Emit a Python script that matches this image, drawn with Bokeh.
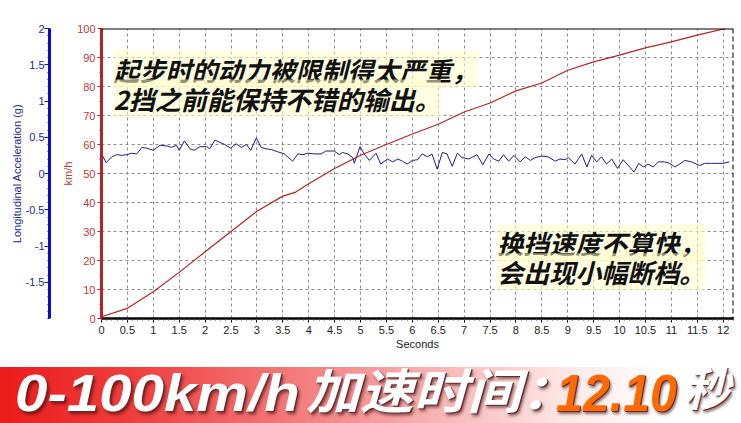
import numpy as np
from bokeh.plotting import figure
from bokeh.models import (Range1d, LinearAxis, FixedTicker, CustomJSTickFormatter,
                          Label, Span, Div)
from bokeh.layouts import column
from bokeh.embed import file_html
from bokeh.resources import INLINE

# ---------------- data ----------------
speed_t = [0, 0.5, 1, 1.5, 2, 2.5, 3, 3.5, 3.75, 4, 4.5, 5, 5.5, 6, 6.5, 7, 7.5,
           8, 8.5, 9, 9.5, 10, 10.5, 11, 11.5, 12.05]
speed_kmh = [0.6, 3.5, 9.2, 15.9, 23, 30, 37, 42.2, 43.6, 46.5, 51.7, 56.3, 60,
             63.6, 67, 71.2, 74.3, 78.5, 81.2, 85.6, 88.5, 90.8, 93.3, 95.4, 97.7, 100]

acc_t = [0, 0.09, 0.2, 0.3, 0.39, 0.49, 0.58, 0.68, 0.78, 0.87, 1.0, 1.13, 1.26, 1.35,
         1.45, 1.5, 1.6, 1.71, 1.79, 1.9, 2.03, 2.09, 2.19, 2.28, 2.38, 2.49, 2.6, 2.7,
         2.8, 2.88, 2.99, 3.08, 3.18, 3.28, 3.4, 3.53, 3.69, 3.79, 3.89, 3.98, 4.11,
         4.24, 4.33, 4.49, 4.59, 4.65, 4.75, 4.85, 4.88, 4.99, 5.07, 5.17, 5.3, 5.39,
         5.52, 5.62, 5.72, 5.81, 5.9, 6.0, 6.1, 6.19, 6.29, 6.38, 6.48, 6.58, 6.67,
         6.77, 6.87, 6.96, 7.09, 7.25, 7.36, 7.48, 7.57, 7.67, 7.76, 7.86, 7.96, 8.08,
         8.18, 8.28, 8.37, 8.5, 8.62, 8.76, 8.85, 8.95, 9.01, 9.14, 9.27, 9.37, 9.46,
         9.56, 9.65, 9.75, 9.85, 9.96, 10.07, 10.17, 10.28, 10.37, 10.46, 10.55, 10.65,
         10.75, 10.87, 10.97, 11.07, 11.16, 11.26, 11.39, 11.55, 11.64, 11.77, 11.9,
         12.0, 12.12]
acc_g = [0.27, 0.15, 0.23, 0.26, 0.25, 0.26, 0.28, 0.27, 0.36, 0.35, 0.32, 0.39, 0.38,
         0.36, 0.39, 0.32, 0.45, 0.34, 0.32, 0.37, 0.37, 0.34, 0.46, 0.43, 0.40, 0.35,
         0.41, 0.36, 0.40, 0.32, 0.49, 0.36, 0.34, 0.33, 0.30, 0.27, 0.17, 0.27, 0.26,
         0.28, 0.27, 0.27, 0.31, 0.31, 0.26, 0.29, 0.27, 0.22, 0.14, 0.37, 0.27, 0.18,
         0.28, 0.13, 0.20, 0.16, 0.20, 0.17, 0.13, 0.18, 0.19, 0.27, 0.23, 0.27, 0.06,
         0.29, 0.27, 0.10, 0.28, 0.22, 0.20, 0.26, 0.12, 0.27, 0.20, 0.17, 0.26, 0.17,
         0.25, 0.16, 0.23, 0.18, 0.22, 0.24, 0.23, 0.17, 0.20, 0.19, 0.22, 0.13, 0.27,
         0.09, 0.25, 0.16, 0.23, 0.13, 0.20, 0.07, 0.19, 0.11, 0.02, 0.14, 0.09, 0.13,
         0.09, 0.16, 0.16, 0.14, 0.09, 0.13, 0.18, 0.16, 0.11, 0.14, 0.14, 0.14, 0.14,
         0.16]

x_ticks = [0, 0.5, 1, 1.5, 2, 2.5, 3, 3.5, 4, 4.5, 5, 5.5, 6, 6.5, 7, 7.5, 8, 8.5, 9,
           9.5, 10, 10.5, 11, 11.5, 12]
x_tick_labels = ["0", "0.5", "1", "1.5", "2", "2.5", "3", "3.5", "4", "4.5", "5", "5.5",
                 "6", "6.5", "7", "7.5", "8", "8.5", "9", "9.5", "10", "10.5", "11",
                 "11.5", "12"]
kmh_ticks = [0, 10, 20, 30, 40, 50, 60, 70, 80, 90, 100]
kmh_tick_labels = ["0", "10", "20", "30", "40", "50", "60", "70", "80", "90", "100"]
acc_ticks = [2, 1.5, 1, 0.5, 0, -0.5, -1, -1.5]
acc_tick_labels = ["2", "1.5", "1", "0.5", "0", "-0.5", "-1", "-1.5"]

note_top = ["起步时的动力被限制得太严重，", "2挡之前能保持不错的输出。"]
note_bottom = ["换挡速度不算快，", "会出现小幅断档。"]
banner_head = "0-100km/h"
banner_cn = "加速时间"
banner_colon = "："
banner_value = "12.10"
banner_unit = "秒"

# ---------------- styling helpers ----------------
RED = "#B22428"
BLUE = "#0A0ACC"
BLUE_TXT = "#26268C"
AXFONT = "Liberation Sans"
CJK = "Noto Sans CJK SC"


def fmt(tv, tl):
    return CustomJSTickFormatter(args=dict(tv=tv, tl=tl), code="""
        for (let i = 0; i < tv.length; i++) {
            if (Math.abs(tv[i] - tick) < 1e-9) { return tl[i]; }
        }
        return "";
    """)


# ---------------- main chart ----------------
p = figure(width=741, height=353, x_range=Range1d(0, 12.2), y_range=Range1d(0, 100),
           output_backend="svg", toolbar_location=None,
           min_border_left=101, min_border_right=8, min_border_top=28,
           min_border_bottom=35)
p.margin = (0, 0, 0, 0)
p.extra_y_ranges = {"acc": Range1d(-2, 2)}
p.outline_line_color = None
p.background_fill_color = "white"

# x axis
xa = p.xaxis[0]
xa.ticker = FixedTicker(ticks=x_ticks, minor_ticks=list(np.round(np.arange(0, 12.21, 0.1), 2)))
xa.formatter = fmt(x_ticks, x_tick_labels)
xa.axis_line_color = "black"
xa.axis_line_width = 2.5
xa.major_tick_line_color = "black"
xa.major_tick_out = 4
xa.major_tick_in = 0
xa.minor_tick_line_color = "#444444"
xa.minor_tick_out = 2
xa.minor_tick_in = 0
xa.major_label_text_font = AXFONT
xa.major_label_text_font_size = "11px"
xa.major_label_text_color = "#222222"
xa.major_label_standoff = 3
xa.axis_label = "Seconds"
xa.axis_label_text_font = AXFONT
xa.axis_label_text_font_size = "11px"
xa.axis_label_text_font_style = "normal"
xa.axis_label_text_color = "#222222"
xa.axis_label_standoff = 1

# km/h axis (closest to frame)
ya = p.yaxis[0]
ya.ticker = FixedTicker(ticks=kmh_ticks, minor_ticks=list(range(0, 101, 5)))
ya.formatter = fmt(kmh_ticks, kmh_tick_labels)
ya.axis_line_color = RED
ya.axis_line_width = 3
ya.major_tick_line_color = RED
ya.major_tick_out = 4
ya.major_tick_in = 0
ya.minor_tick_line_color = RED
ya.minor_tick_out = 2
ya.minor_tick_in = 0
ya.major_label_text_font = AXFONT
ya.major_label_text_font_size = "11px"
ya.major_label_text_color = "#B83A3A"
ya.major_label_standoff = 2
ya.axis_label = "km/h"
ya.axis_label_text_font = AXFONT
ya.axis_label_text_font_size = "11px"
ya.axis_label_text_font_style = "normal"
ya.axis_label_text_color = "#B83A3A"
ya.axis_label_standoff = 0

# blank spacer between the two left axes
sp = LinearAxis(ticker=FixedTicker(ticks=[]), axis_line_color=None,
                major_tick_line_color=None, minor_tick_line_color=None,
                major_tick_out=0, major_tick_in=0, minor_tick_out=0,
                major_label_text_font_size="0px", major_label_standoff=0,
                axis_label="\u00a0", axis_label_text_font_size="7px",
                axis_label_text_color="white", axis_label_standoff=0)
p.add_layout(sp, "left")

# acceleration axis
aa = LinearAxis(y_range_name="acc")
aa.ticker = FixedTicker(ticks=acc_ticks, minor_ticks=list(np.round(np.arange(-2, 2.01, 0.1), 2)))
aa.formatter = fmt(acc_ticks, acc_tick_labels)
aa.axis_line_color = BLUE
aa.axis_line_width = 3
aa.major_tick_line_color = BLUE
aa.major_tick_out = 5
aa.major_tick_in = 0
aa.minor_tick_line_color = BLUE
aa.minor_tick_out = 2
aa.minor_tick_in = 0
aa.major_label_text_font = AXFONT
aa.major_label_text_font_size = "11px"
aa.major_label_text_color = BLUE_TXT
aa.major_label_standoff = 0
aa.axis_label = "Longitudinal Acceleration (g)"
aa.axis_label_text_font = AXFONT
aa.axis_label_text_font_size = "11px"
aa.axis_label_text_font_style = "normal"
aa.axis_label_text_color = BLUE_TXT
aa.axis_label_standoff = 0
p.add_layout(aa, "left")

# grid
for g in (p.xgrid[0], p.ygrid[0]):
    g.grid_line_color = "#8C8C8C"
    g.grid_line_dash = "3 3"
    g.grid_line_width = 1

# frame top and right border
p.add_layout(Span(location=100, dimension="width", line_color="black", line_width=2))
p.add_layout(Span(location=12.2, dimension="height", line_color="black",
                  line_width=2, line_dash="5 3"))

# series
p.line(acc_t, acc_g, y_range_name="acc", line_color="#1E1E7E", line_width=1)
p.line(speed_t, speed_kmh, line_color=RED, line_width=1.2)

# annotations
for txt, yy in zip(note_top, [86.0, 76.0]):
    p.add_layout(Label(x=0.23, y=yy, text=txt, text_font=CJK, text_font_size="26px",
                       text_font_style="bold italic", text_color="#111111",
                       text_baseline="middle", text_align="left",
                       background_fill_color="#FFFFC8", background_fill_alpha=0.55))
for txt, yy in zip(note_bottom, [26.1, 16.1]):
    p.add_layout(Label(x=7.64, y=yy, text=txt, text_font=CJK, text_font_size="26px",
                       text_font_style="bold italic", text_color="#111111",
                       text_baseline="middle", text_align="left",
                       background_fill_color="#FFFFC8", background_fill_alpha=0.55))

# ---------------- banner ----------------
shadow = "text-shadow:1px 1px 0 #6a2a2a, 2px 3px 3px rgba(40,0,0,0.55);"
lat = ("font-family:'Liberation Sans';font-weight:bold;font-style:italic;"
       "line-height:normal;display:block;transform-origin:left center;")
cjk = ("font-family:'Noto Sans CJK SC';font-weight:bold;font-style:italic;"
       "line-height:normal;display:block;transform-origin:left center;")
banner_html = f"""
<div style="position:relative;width:741px;height:70px;white-space:nowrap;background:#FFFFFF;">
 <div style="position:absolute;left:0;top:14px;width:741px;height:56px;
  background:linear-gradient(to right,#EC1B1B 0%,#F03E3E 18%,#F47C7C 40%,#F9BDBD 62%,#FDEBEB 78%,#FFFFFF 90%);"></div>
 <span style="position:absolute;left:15px;top:10px;font-size:52px;color:#FFFFFF;transform:scaleX(1.12);{lat}{shadow}">{banner_head}</span>
 <span style="position:absolute;left:306px;top:0px;font-size:48px;color:#FFFFFF;transform:scaleX(1.12);{cjk}{shadow}">{banner_cn}<span style="letter-spacing:-26px;">{banner_colon}</span></span>
 <span style="position:absolute;left:556px;top:10px;font-size:52px;color:#FF6A00;transform:scaleX(0.93);{lat}{shadow}">{banner_value}</span>
 <span style="position:absolute;left:684px;top:0px;font-size:46px;color:#FFFFFF;{cjk}{shadow}">{banner_unit}</span>
</div>"""
banner = Div(text=banner_html, width=741, height=70, margin=(0, 0, 0, 0))

layout = column(p, banner, spacing=0)
open("out.html", "w").write(file_html(layout, INLINE))
